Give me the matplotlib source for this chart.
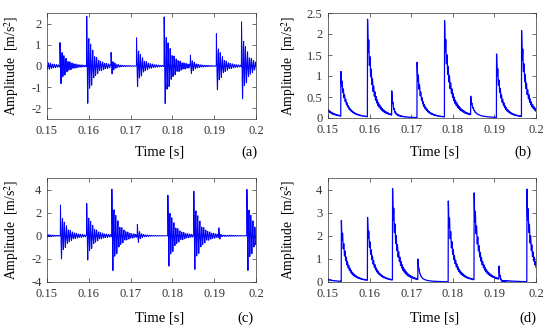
import numpy as np
import matplotlib
matplotlib.use("Agg")
import matplotlib.pyplot as plt

plt.rcParams['font.family'] = ['Liberation Serif', 'DejaVu Serif']
plt.rcParams['mathtext.fontset'] = 'stix'

# ---- data ----
# impact times [s], peak amplitudes [m/s^2], decay times [s]
impact_t_top = [0.1470, 0.1531, 0.1595, 0.1653, 0.1714, 0.1780, 0.1843, 0.1905, 0.1965]
impact_a_top = [1.6, 1.1, 2.38, 0.62, 1.32, 2.3, 0.5, 1.52, 2.1]
impact_tau_top = [0.0010, 0.0010, 0.0010, 0.0004, 0.0009, 0.0011, 0.0006, 0.0009, 0.0010]

impact_t_bot = [0.1466, 0.1532, 0.1595, 0.1655, 0.1716, 0.1789, 0.1851, 0.1911, 0.1978]
impact_a_bot = [1.4, 2.65, 2.78, 4.08, 0.98, 3.5, 3.75, 0.8, 4.02]
impact_tau_bot = [0.0009, 0.0010, 0.0010, 0.0010, 0.0004, 0.0010, 0.0010, 0.0003, 0.0010]

carrier_hz = [2100.0, 5500.0]     # resonance components
carrier_w = [0.88, 0.12]
tail_w = 0.25                    # share of the slow tail
tail_k = 3.0                     # slow tail is this many times longer
fs = 25600.0
t_start, t_stop = 0.144, 0.203

xticks = [0.15, 0.16, 0.17, 0.18, 0.19, 0.2]
xticklabels = ['0.15', '0.16', '0.17', '0.18', '0.19', '0.2']


def build(times, amps, taus):
    """Analytic (complex) signal: real part = vibration, modulus = envelope."""
    n = int(round((t_stop - t_start) * fs))
    k = np.arange(n)
    t = t_start + k / fs
    z = np.zeros(n, dtype=complex)
    for t0, a, tau in zip(times, amps, taus):
        k0 = int(np.ceil((t0 - t_start) * fs))
        dt = (k[k0:] - k0) / fs
        env = a * ((1 - tail_w) * np.exp(-dt / tau) + tail_w * np.exp(-dt / (tail_k * tau)))
        osc = sum(w * np.exp(2j * np.pi * f * dt) for f, w in zip(carrier_hz, carrier_w))
        z[k0:] += env * osc
    return t, z


t1, z1 = build(impact_t_top, impact_a_top, impact_tau_top)
t2, z2 = build(impact_t_bot, impact_a_bot, impact_tau_bot)

W, H = 550, 332
fig = plt.figure(figsize=(W / 100, H / 100), dpi=100)


def ax_at(l, r, top, bot):
    return fig.add_axes([l / W, 1 - bot / H, (r - l) / W, (bot - top) / H])


axes = [ax_at(47, 256, 13, 119), ax_at(328, 536, 13, 118),
        ax_at(47, 256, 178, 282), ax_at(328, 536, 178, 282)]
series = [(t1, z1.real), (t1, np.abs(z1)), (t2, z2.real), (t2, np.abs(z2))]
ylims = [(-2.5, 2.5), (0, 2.5), (-4, 5), (0, 4.5)]
yticks = [[-2, -1, 0, 1, 2], [0, 0.5, 1, 1.5, 2, 2.5], [-4, -2, 0, 2, 4], [0, 1, 2, 3, 4]]
yticklabels = [['-2', '-1', '0', '1', '2'], ['0', '0.5', '1', '1.5', '2', '2.5'],
               ['-4', '-2', '0', '2', '4'], ['0', '1', '2', '3', '4']]
ylab_x = [21, 298, 21, 298]
ax_left = [47, 328, 47, 328]
ax_w = [209, 208, 209, 208]
line_w = [0.7, 0.9, 0.7, 0.9]

for i, (ax, (t, s), yl, yt, ytl) in enumerate(zip(axes, series, ylims, yticks, yticklabels)):
    ax.plot(t, s, color='#0000ff', lw=line_w[i])
    ax.set_xlim(0.15, 0.2)
    ax.set_ylim(*yl)
    ax.set_xticks(xticks)
    ax.set_xticklabels(xticklabels)
    ax.set_yticks(yt)
    ax.set_yticklabels(ytl)
    ax.tick_params(direction='in', top=True, right=True, length=3, width=0.5,
                   labelsize=9, colors='#333333', pad=4)
    for sp in ax.spines.values():
        sp.set_linewidth(0.5)
        sp.set_color('#333333')
    ax.set_ylabel('Amplitude  [m/s$^2$]', fontsize=9.8)
    ax.yaxis.set_label_coords((ylab_x[i] - ax_left[i]) / ax_w[i], 0.5)

labels = ['(a)', '(b)', '(c)', '(d)']
tx = [160, 435, 160, 435]
ty = [152, 152, 318, 318]
lx = [249, 523, 245, 528]
for i in range(4):
    fig.text(tx[i] / W, 1 - ty[i] / H, 'Time [s]', ha='center', va='center', fontsize=10.5)
    fig.text(lx[i] / W, 1 - ty[i] / H, labels[i], ha='center', va='center', fontsize=10.5)

fig.savefig('out.png', dpi=100)
